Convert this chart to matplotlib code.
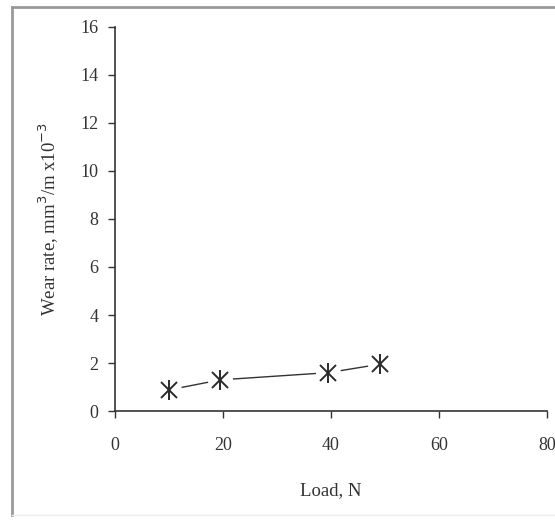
import matplotlib.pyplot as plt
from matplotlib.lines import Line2D

plt.rcParams['font.family'] = ['Liberation Serif', 'DejaVu Serif']

# data
load = [10, 19.5, 39.5, 49]
wear_rate = [0.88, 1.3, 1.6, 1.95]

x_ticks = [0, 20, 40, 60, 80]
y_ticks = [0, 2, 4, 6, 8, 10, 12, 14, 16]

fig = plt.figure(figsize=(5.55, 5.25), dpi=100)
ax = fig.add_axes([0.207, 0.217, 0.779, 0.732])

# line with small gaps round the markers, like the original
ax.plot(load, wear_rate, color='#333333', lw=1.0, zorder=2)
ax.plot(load, wear_rate, ls='none', marker='o', ms=18, mfc='white', mec='none', zorder=3)
ax.plot(load, wear_rate, ls='none', marker='x', ms=11, mew=1.4, color='#2a2a2a', zorder=4)
ax.plot(load, wear_rate, ls='none', marker='|', ms=14, mew=1.4, color='#2a2a2a', zorder=4)

ax.set_xlim(0, 80)
ax.set_ylim(0, 16)
ax.set_xticks(x_ticks)
ax.set_yticks(y_ticks)
ax.tick_params(direction='out', length=5, width=1, colors='#333333', labelsize=13)
ax.tick_params(axis='x', pad=14)
ax.tick_params(axis='y', pad=7)
for side in ['top', 'right']:
    ax.spines[side].set_visible(False)
for side in ['left', 'bottom']:
    ax.spines[side].set_color('#333333')
    ax.spines[side].set_linewidth(1.2)

ax.set_xlabel('Load, N', fontsize=13.5, color='#333333', labelpad=20)
ax.set_ylabel('Wear rate, mm$^3$/m x10$^{-3}$', fontsize=13.5, color='#333333', labelpad=14)

# the grey frame round the whole picture
fig.add_artist(Line2D([0.022, 0.022], [0.02, 0.986], transform=fig.transFigure, color='#999999', lw=2))
fig.add_artist(Line2D([0.022, 1.0], [0.986, 0.986], transform=fig.transFigure, color='#999999', lw=2))
fig.add_artist(Line2D([0.022, 1.0], [0.02, 0.02], transform=fig.transFigure, color='#eeeeee', lw=1))

fig.savefig('out.png', dpi=100)
